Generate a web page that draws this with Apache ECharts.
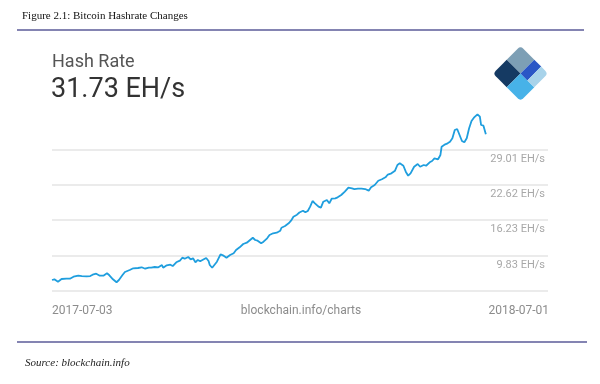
<!DOCTYPE html>
<html><head><meta charset="utf-8">
<script src="https://cdn.jsdelivr.net/npm/echarts@6/dist/echarts.min.js"></script>
<style>html,body{margin:0;padding:0;background:#fff}#c{width:600px;height:384px}</style>
</head><body><div id="c"></div>
<script>
// Days since 2017-07-03 (2018-07-01 = day 363)
const dayOffsets = [0,2,5,8,12,15,18,22,25,29,
  32,34,37,40,43,46,48,51,54,56,
  59,61,65,68,72,75,78,81,83,86,
  89,92,93,96,99,101,104,107,109,111,
  114,116,118,120,122,124,127,129,131,132,
  134,135,138,141,143,146,149,152,154,157,
  160,163,165,168,170,172,175,177,180,182,
  185,188,191,192,195,198,200,202,205,207,
  210,212,214,216,218,220,223,225,227,230,
  232,234,237,239,242,245,248,251,253,256,
  259,262,265,267,270,273,276,279,281,284,
  287,289,291,294,296,298,300,303,306,308,
  311,313,316,318,320,323,325,326,329,331,
  333,335,337,339,341,343,345,347,349,351,
  353,354,356,358,359,361,363];
// Hash rate, EH/s
const hashrate = [5.39,5.52,5.08,5.57,5.63,5.63,5.99,6.17,6.11,6.06,
  6.11,6.35,6.53,6.17,6.17,6.60,6.24,5.52,4.98,5.39,
  6.29,6.84,7.20,7.51,7.56,7.69,7.43,7.61,7.61,7.74,
  7.69,8.10,7.61,8.05,8.16,7.92,8.59,8.88,9.42,9.24,
  9.55,9.13,9.31,8.59,9.01,8.77,9.13,9.37,8.82,8.10,
  7.61,7.51,8.70,10.04,9.85,9.42,9.91,10.22,10.81,11.30,
  11.90,12.13,12.49,13.03,12.62,12.49,12.02,12.31,12.93,13.52,
  13.83,13.94,14.30,14.84,15.15,15.64,16.11,16.83,17.19,17.59,
  17.91,17.62,17.86,18.64,19.67,19.25,18.64,18.46,19.54,19.85,
  19.25,20.08,20.15,20.33,20.75,21.35,22.07,21.96,21.83,21.89,
  21.89,21.83,21.53,22.14,22.56,23.33,23.59,23.95,24.45,24.67,
  25.14,26.17,26.48,26.04,24.96,24.24,24.67,25.86,26.35,25.86,
  26.17,26.04,26.66,26.89,27.38,27.20,27.98,29.48,29.91,30.09,
  30.38,30.99,32.50,32.68,31.59,30.51,30.27,30.99,32.80,34.12,
  34.72,35.02,35.33,34.90,33.40,33.27,31.73];
const yGridValues = [3.44, 9.83, 16.23, 22.62, 29.01];
const yLabelValues = [9.83, 16.23, 22.62, 29.01];
const xEndLabels = ['2017-07-03', '2018-07-01'];
const headerTitle = 'Hash Rate';
const headerValue = '31.73 EH/s';
const figureTitle = 'Figure 2.1: Bitcoin Hashrate Changes';
const sourceText = 'Source: blockchain.info';
const centerLabel = 'blockchain.info/charts';

const chart = echarts.init(document.getElementById('c'), null, {renderer: 'canvas'});
const lineColor = '#5b5b98';
const font = 'Roboto';
chart.setOption({
  animation: false,
  backgroundColor: '#fff',
  grid: {left: 52, right: 52, top: 109.5, bottom: 93.2, containLabel: false},
  xAxis: {
    type: 'value', min: 0, max: 415,
    axisLine: {show: false}, axisTick: {show: false}, axisLabel: {show: false}, splitLine: {show: false}
  },
  yAxis: {
    type: 'value', position: 'right', min: 3.44, max: 36.2,
    axisLine: {show: false},
    axisTick: {show: false, customValues: yGridValues},
    splitLine: {show: true, lineStyle: {color: '#e4e4e4', width: 1.5}},
    axisLabel: {
      inside: true, customValues: yLabelValues, margin: 3,
      formatter: v => v.toFixed(2) + ' EH/s',
      verticalAlign: 'top', padding: [4, 0, 0, 0],
      color: '#a8a8a8', fontSize: 11, fontFamily: font
    }
  },
  series: [{
    type: 'line',
    data: dayOffsets.map((d, i) => [d, hashrate[i]]),
    showSymbol: false,
    lineStyle: {color: '#1f9ede', width: 1.8},
    silent: true
  }],
  graphic: [
    {type: 'text', x: 22, y: 16, style: {text: figureTitle, font: '11px "Liberation Serif"', fill: '#111', verticalAlign: 'middle', textVerticalAlign: 'middle'}},
    {type: 'line', shape: {x1: 17, y1: 30, x2: 584, y2: 30}, style: {stroke: lineColor, lineWidth: 1.5}},
    {type: 'text', x: 52, y: 62, style: {text: headerTitle, font: '18px ' + font, fill: '#555', verticalAlign: 'middle', textVerticalAlign: 'middle'}},
    {type: 'text', x: 51, y: 90, style: {text: headerValue, font: '27px ' + font, fill: '#333', verticalAlign: 'middle', textVerticalAlign: 'middle'}},
    {type: 'text', x: 52, y: 311, style: {text: xEndLabels[0], font: '12px ' + font, fill: '#8c8c8c', verticalAlign: 'middle', textVerticalAlign: 'middle'}},
    {type: 'text', x: 301, y: 311, style: {text: centerLabel, font: '12px ' + font, fill: '#8c8c8c', align: 'center', textAlign: 'center', verticalAlign: 'middle', textVerticalAlign: 'middle'}},
    {type: 'text', x: 549, y: 311, style: {text: xEndLabels[1], font: '12px ' + font, fill: '#8c8c8c', align: 'right', textAlign: 'right', verticalAlign: 'middle', textVerticalAlign: 'middle'}},
    {type: 'line', shape: {x1: 17, y1: 342, x2: 587, y2: 342}, style: {stroke: lineColor, lineWidth: 1.5}},
    {type: 'text', x: 25, y: 363, style: {text: sourceText, font: 'italic 11px "Liberation Serif"', fill: '#222', verticalAlign: 'middle', textVerticalAlign: 'middle'}},
    {type: 'group', x: 520.5, y: 73.5, rotation: -Math.PI / 4, children: [
      {type: 'rect', shape: {x: -19.5, y: -19.5, width: 19.5, height: 19.5, r: [4, 0, 0, 0]}, style: {fill: '#7d9fb5'}},
      {type: 'rect', shape: {x: -19.5, y: 0, width: 19.5, height: 19.5, r: [0, 0, 0, 4]}, style: {fill: '#153a63'}},
      {type: 'rect', shape: {x: 0, y: 0, width: 19.5, height: 19.5, r: [0, 0, 4, 0]}, style: {fill: '#47b2e8'}},
      {type: 'rect', shape: {x: 0, y: -19.5, width: 9.75, height: 19.5}, style: {fill: '#2a56c6'}},
      {type: 'rect', shape: {x: 9.75, y: -19.5, width: 9.75, height: 19.5, r: [0, 4, 0, 0]}, style: {fill: '#a8d3ea'}}
    ]}
  ]
});
</script></body></html>
